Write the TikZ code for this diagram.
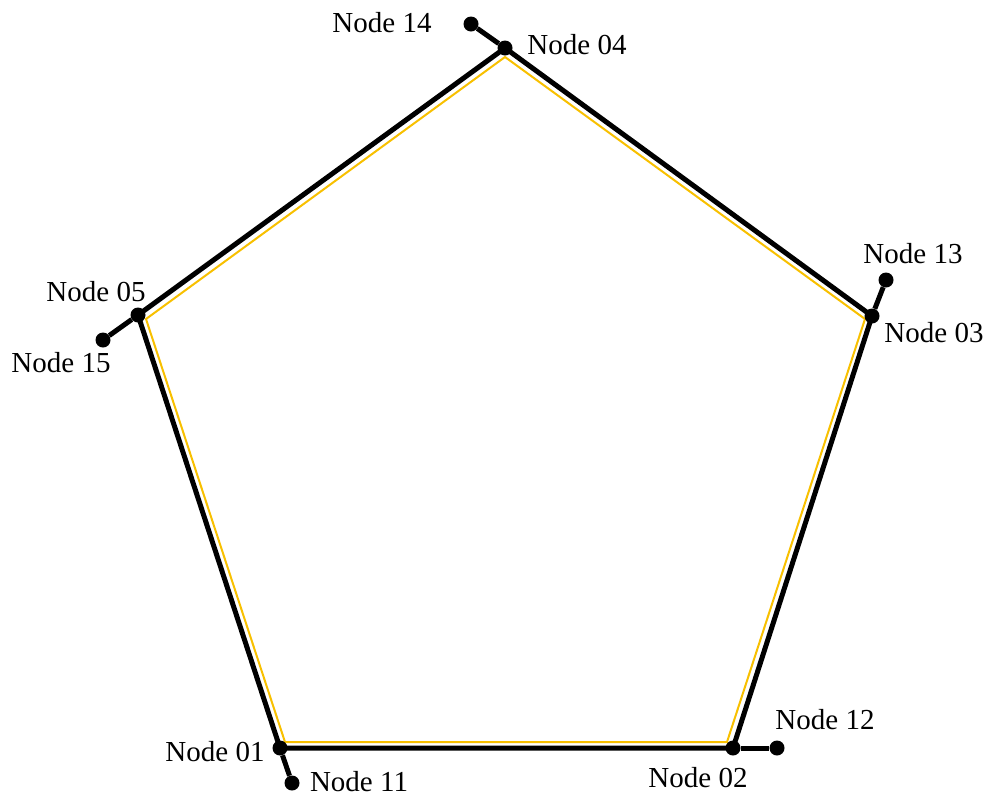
\documentclass[tikz,border=0pt]{standalone}
\usepackage{fontspec}
\setmainfont{Liberation Serif}
\definecolor{ringyellow}{RGB}{248,192,0}
\tikzset{
  vertex/.style={circle,fill=black,inner sep=0pt,minimum size=15pt},
  edge/.style={line width=5pt},
  ring/.style={draw=ringyellow,line width=2pt,line join=miter},
  lbl/.style={inner sep=0pt,font=\fontsize{29}{31}\selectfont}
}

\begin{document}
\begin{tikzpicture}[x=1pt,y=-1pt]
  \useasboundingbox (0,0) rectangle (987,796);
  % inner ring
  \coordinate (r1) at (285,742);
  \coordinate (r2) at (727,742);
  \coordinate (r3) at (865,319);
  \coordinate (r4) at (505,57);
  \coordinate (r5) at (146,319);
  \draw[ring] (r1) -- (r2) -- (r3) -- (r4) -- (r5) -- cycle;
  % pentagon nodes
  \node[vertex] (n01) at (280,748) {};
  \node[vertex] (n02) at (733,748) {};
  \node[vertex] (n03) at (872,316) {};
  \node[vertex] (n04) at (505,48) {};
  \node[vertex] (n05) at (138,315) {};
  % outer nodes
  \node[vertex] (n11) at (292,783) {};
  \node[vertex] (n12) at (777,748) {};
  \node[vertex] (n13) at (886,280) {};
  \node[vertex] (n14) at (471,24) {};
  \node[vertex] (n15) at (103,340) {};
  \draw[edge] (n01.center) -- (n02.center) -- (n03.center) -- (n04.center) -- (n05.center) -- cycle;
  \draw[edge] (n01) -- (n11);
  \draw[edge] (n02) -- (n12);
  \draw[edge] (n03) -- (n13);
  \draw[edge] (n04) -- (n14);
  \draw[edge] (n05) -- (n15);
  % labels
  \node[lbl] (t01) at (215,752) {Node 01};
  \node[lbl] (t02) at (698,778) {Node 02};
  \node[lbl] (t03) at (934,333) {Node 03};
  \node[lbl] (t04) at (577,45) {Node 04};
  \node[lbl] (t05) at (96,292) {Node 05};
  \node[lbl] (t11) at (359,782) {Node 11};
  \node[lbl] (t12) at (825,720) {Node 12};
  \node[lbl] (t13) at (913,254) {Node 13};
  \node[lbl] (t14) at (382,23) {Node 14};
  \node[lbl] (t15) at (61,363) {Node 15};
\end{tikzpicture}
\end{document}
